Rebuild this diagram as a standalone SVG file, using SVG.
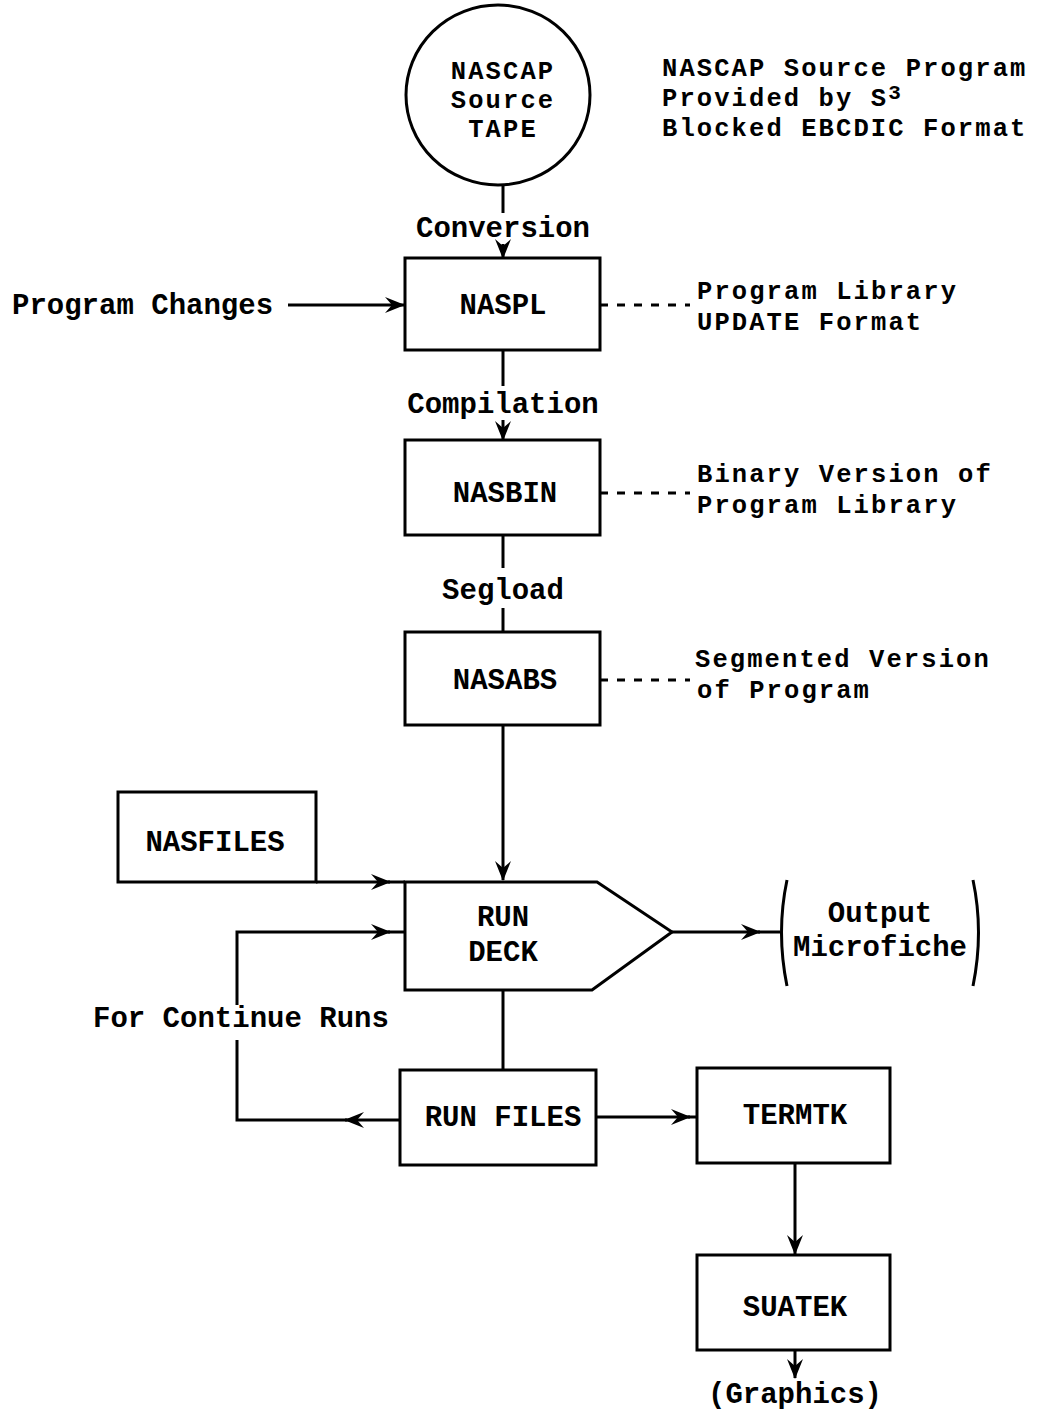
<svg xmlns="http://www.w3.org/2000/svg" width="1037" height="1412" viewBox="0 0 1037 1412">
<style>
.bx{fill:none;stroke:#000;stroke-width:3}
.t{font-family:"Liberation Mono","DejaVu Sans Mono",monospace;font-weight:bold;font-size:29px;fill:#000}
.m{font-size:25.5px;letter-spacing:2.1px}
.c{text-anchor:middle}
.ln{fill:none;stroke:#000;stroke-width:3}
.ds{fill:none;stroke:#000;stroke-width:3;stroke-dasharray:8,9}
</style>
<defs>
<marker id="ah" markerUnits="userSpaceOnUse" markerWidth="20" markerHeight="16" viewBox="0 0 20 16" refX="19" refY="8" orient="auto">
<path d="M0,0 L20,8 L0,16 L7,8 z" fill="#000"/>
</marker>
</defs>
<rect width="1037" height="1412" fill="#fff"/>

<g id="tape">
<ellipse class="bx" cx="498" cy="95" rx="92" ry="90"/>
<text class="t m c" x="503" y="79">NASCAP</text>
<text class="t m c" x="503" y="108">Source</text>
<text class="t m c" x="503" y="137">TAPE</text>
</g>
<g id="note-source">
<text class="t m" x="662" y="76">NASCAP Source Program</text>
<text class="t m" x="662" y="106">Provided by S<tspan dy="-7" font-size="21">3</tspan></text>
<text class="t m" x="662" y="136">Blocked EBCDIC Format</text>
</g>

<g id="naspl">
<rect class="bx" x="405" y="258" width="195" height="92"/>
<text class="t c" x="503" y="314">NASPL</text>
</g>
<g id="program-changes">
<text class="t" x="12" y="314">Program Changes</text>
</g>
<g id="note-naspl">
<text class="t m" x="697" y="299">Program Library</text>
<text class="t m" x="697" y="330">UPDATE Format</text>
</g>

<g id="nasbin">
<rect class="bx" x="405" y="440" width="195" height="95"/>
<text class="t c" x="505" y="502">NASBIN</text>
</g>
<g id="note-nasbin">
<text class="t m" x="697" y="482">Binary Version of</text>
<text class="t m" x="697" y="513">Program Library</text>
</g>

<g id="nasabs">
<rect class="bx" x="405" y="632" width="195" height="93"/>
<text class="t c" x="505" y="689">NASABS</text>
</g>
<g id="note-nasabs">
<text class="t m" x="695" y="667">Segmented Version</text>
<text class="t m" x="697" y="698">of Program</text>
</g>

<g id="nasfiles">
<path class="bx" d="M118,882 L118,792 L316,792 L316,882 Z"/>
<text class="t c" x="215" y="851">NASFILES</text>
</g>

<g id="run-deck">
<path class="bx" d="M405,882 L597,882 L672,932 L592,990 L405,990 Z"/>
<text class="t c" x="503" y="926">RUN</text>
<text class="t c" x="503" y="961">DECK</text>
</g>

<g id="output">
<path class="ln" d="M787,880 Q776,932 787,986"/>
<path class="ln" d="M973,880 Q984,932 973,986"/>
<text class="t c" x="880" y="922">Output</text>
<text class="t c" x="880" y="956">Microfiche</text>
</g>

<g id="run-files">
<rect class="bx" x="400" y="1070" width="196" height="95"/>
<text class="t c" x="503" y="1126">RUN FILES</text>
</g>

<g id="termtk">
<rect class="bx" x="697" y="1068" width="193" height="95"/>
<text class="t c" x="795" y="1124">TERMTK</text>
</g>

<g id="suatek">
<rect class="bx" x="697" y="1255" width="193" height="95"/>
<text class="t c" x="795" y="1316">SUATEK</text>
</g>

<g id="graphics">
<text class="t c" x="795" y="1403">(Graphics)</text>
</g>

<g id="connectors">
<line class="ln" x1="503" y1="185" x2="503" y2="213"/>
<text class="t c" x="503" y="237">Conversion</text>
<line class="ln" x1="503" y1="244" x2="503" y2="258" marker-end="url(#ah)"/>
<line class="ln" x1="288" y1="305" x2="404" y2="305" marker-end="url(#ah)"/>
<line class="ds" x1="600" y1="305" x2="690" y2="305"/>
<line class="ln" x1="503" y1="350" x2="503" y2="386"/>
<text class="t c" x="503" y="413">Compilation</text>
<line class="ln" x1="503" y1="420" x2="503" y2="440" marker-end="url(#ah)"/>
<line class="ds" x1="600" y1="493" x2="690" y2="493"/>
<line class="ln" x1="503" y1="535" x2="503" y2="568"/>
<text class="t c" x="503" y="599">Segload</text>
<line class="ln" x1="503" y1="608" x2="503" y2="632"/>
<line class="ds" x1="600" y1="680" x2="690" y2="680"/>
<line class="ln" x1="503" y1="725" x2="503" y2="880" marker-end="url(#ah)"/>
<path class="ln" d="M316,882 L390,882" marker-end="url(#ah)"/>
<line class="ln" x1="388" y1="882" x2="405" y2="882"/>
<path class="ln" d="M237,1005 L237,932 L390,932" marker-end="url(#ah)"/>
<line class="ln" x1="388" y1="932" x2="405" y2="932"/>
<text class="t" x="93" y="1027">For Continue Runs</text>
<path class="ln" d="M400,1120 L345,1120" marker-end="url(#ah)"/>
<path class="ln" d="M347,1120 L237,1120 L237,1040"/>
<path class="ln" d="M672,932 L760,932" marker-end="url(#ah)"/>
<line class="ln" x1="758" y1="932" x2="780" y2="932"/>
<line class="ln" x1="503" y1="990" x2="503" y2="1070"/>
<path class="ln" d="M596,1117 L690,1117" marker-end="url(#ah)"/>
<line class="ln" x1="688" y1="1117" x2="697" y2="1117"/>
<line class="ln" x1="795" y1="1163" x2="795" y2="1254" marker-end="url(#ah)"/>
<line class="ln" x1="795" y1="1350" x2="795" y2="1378" marker-end="url(#ah)"/>
</g>
</svg>
